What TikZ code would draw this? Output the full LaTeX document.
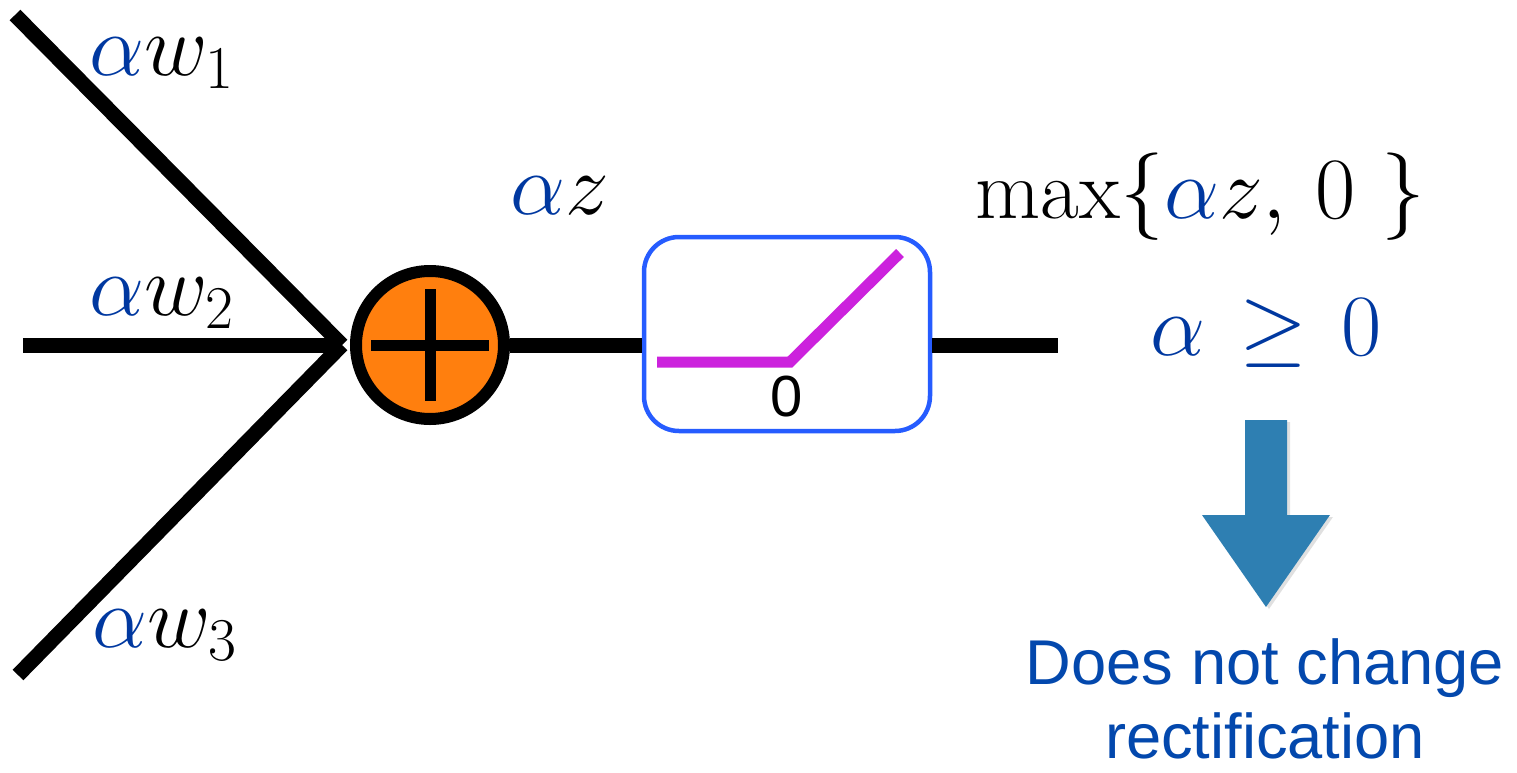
\documentclass[tikz,border=0pt]{standalone}
\usepackage{fontspec}
\newfontfamily\helv{Liberation Sans}
\usetikzlibrary{shadows}
\definecolor{alphablue}{RGB}{0,56,160}
\definecolor{textblue}{RGB}{3,72,173}
\definecolor{arrowblue}{RGB}{46,127,178}
\definecolor{sumorange}{RGB}{255,127,14}
\definecolor{boxblue}{RGB}{38,92,255}
\definecolor{rampmagenta}{RGB}{204,34,221}
\newcommand{\ba}{{\color{alphablue}\alpha}}
\tikzset{
	wire/.style={line width=0.15cm, black},
	sumnode/.style={shape=circle, draw, line width=0.12cm, fill=sumorange, minimum size=1.48cm, inner sep=0pt},
	relubox/.style={shape=rectangle, rounded corners=0.35cm, draw=boxblue, line width=0.045cm, minimum width=2.86cm, minimum height=1.94cm, fill=white},
	ramp/.style={line width=0.11cm, rampmagenta},
	mathlabel/.style={anchor=base west, inner sep=0pt, font=\fontsize{27}{32}\selectfont},
}
\begin{document}
\begin{tikzpicture}
	% Paths, nodes and wires:
	\useasboundingbox (0,0) rectangle (15.17,-7.73);
	\coordinate (in1) at (0.15,-0.15);
	\coordinate (in2) at (0.23,-3.45);
	\coordinate (in3) at (0.18,-6.75);
	\coordinate (join) at (3.42,-3.45);
	\coordinate (out) at (10.58,-3.45);
	\draw[wire] (in1) -- (join);
	\draw[wire] (in2) -- (join);
	\draw[wire] (in3) -- (join);
	\node[sumnode] (sum) at (4.30,-3.45){};
	\draw[line width=0.11cm] ([xshift=-0.59cm]sum.center) -- ([xshift=0.59cm]sum.center);
	\draw[line width=0.11cm] ([yshift=0.56cm]sum.center) -- ([yshift=-0.56cm]sum.center);
	\node[relubox] (relu) at (7.87,-3.34){};
	\draw[wire] (sum.east) -- (relu.west |- sum.east);
	\draw[wire] (relu.east |- sum.east) -- (out);
	\draw[ramp] ([shift={(-1.30,-0.28)}]relu.center) -- ([shift={(0.03,-0.28)}]relu.center) -- ([shift={(1.13,0.81)}]relu.center);
	\node[font=\helv\fontsize{16.5}{20}\selectfont, inner sep=0pt] (zero) at ([yshift=-0.63cm]relu.center) {0};
	% labels
	\node[mathlabel] (w1) at (0.89,-0.75) {$\ba w_1$};
	\node[mathlabel] (w2) at (0.89,-3.15) {$\ba w_2$};
	\node[mathlabel] (w3) at (0.92,-6.47) {$\ba w_3$};
	\node[mathlabel] (z) at (5.10,-2.14) {$\ba z$};
	\node[mathlabel, font=\fontsize{24}{29}\selectfont] (max) at (9.75,-2.18) {$\max\{\ba z,\,0\ \}$};
	\node[mathlabel, font=\fontsize{28}{34}\selectfont, text=alphablue] (cond) at (11.50,-3.55) {$\alpha\mkern2mu\geq\mkern2mu0$};
	\fill[arrowblue, drop shadow={opacity=0.2, fill=black!60, shadow xshift=0.03cm, shadow yshift=-0.02cm}] (12.45,-4.20) -- (12.87,-4.20) -- (12.87,-5.15) -- (13.30,-5.15) -- (12.66,-6.07) -- (12.02,-5.15) -- (12.45,-5.15) -- cycle;
	\node[align=center, inner sep=0pt, text=textblue, font=\helv\fontsize{18}{21}\selectfont] (note) at (12.65,-6.99) {Does not change\\rectification};
\end{tikzpicture}
\end{document}
